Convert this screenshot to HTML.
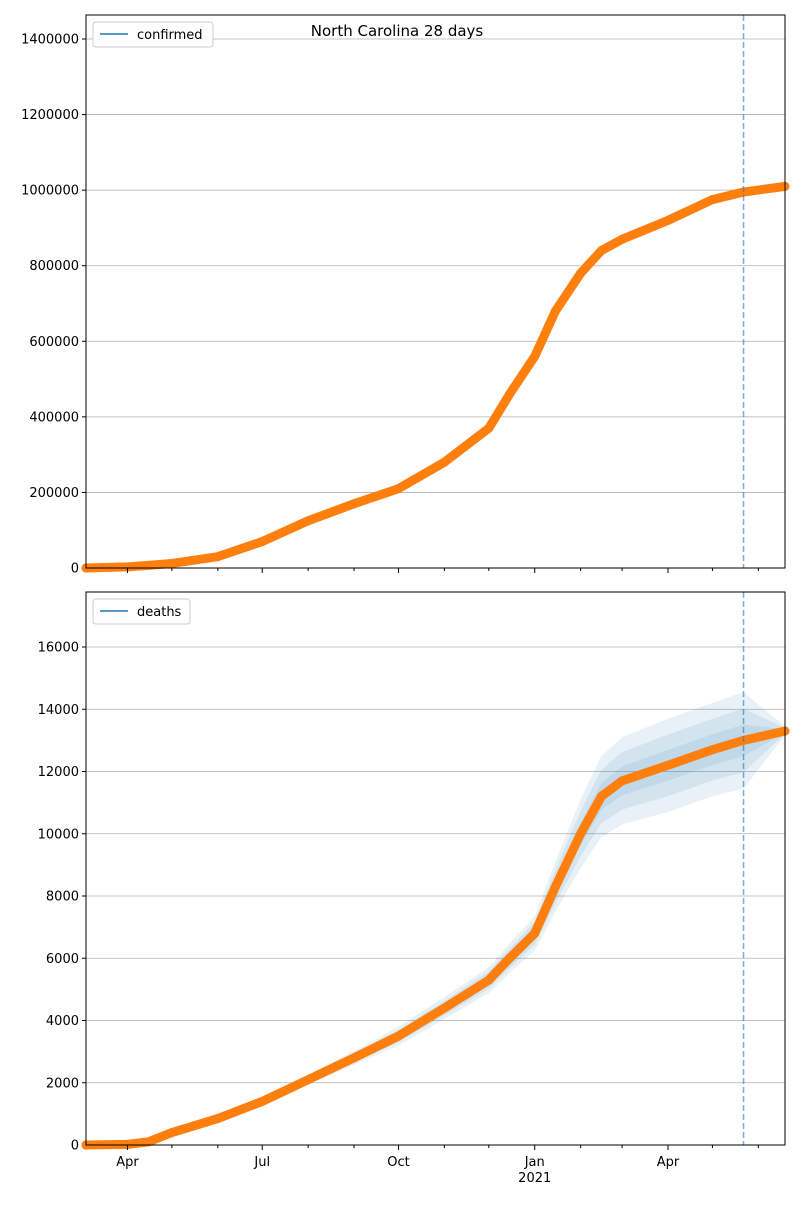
<!DOCTYPE html>
<html><head><meta charset="utf-8">
<style>
body{margin:0;background:#fff;}
svg text{font-family:"DejaVu Sans","Liberation Sans",sans-serif;font-size:13px;fill:#000;}
</style></head>
<body>
<svg id="chart" width="800" height="1200" viewBox="0 0 800 1200" xmlns="http://www.w3.org/2000/svg"></svg>
<script>
// days since 2020-03-04
const days = [0,28,42,58,89,119,150,181,211,242,272,286,303,317,334,348,362,393,423,444,472];
const confirmed = [0,3000,7000,12000,30000,70000,125000,170000,210000,280000,370000,460000,560000,680000,780000,840000,870000,920000,975000,995000,1010000];
const deaths = [0,20,100,400,850,1400,2100,2800,3500,4400,5300,6000,6800,8300,10000,11200,11700,12200,12700,13000,13300];
const bandHalf = [0,2,10,30,60,100,150,220,300,350,420,470,550,800,1100,1300,1400,1500,1500,1550,150];
const confTicks = [0,200000,400000,600000,800000,1000000,1200000,1400000];
const deathTicks = [0,2000,4000,6000,8000,10000,12000,14000,16000];
const monthDays = [-3,28,58,89,119,150,181,211,242,272,303,334,362,393,423,454];
const majorLabels = {"28":"Apr","119":"Jul","211":"Oct","303":"Jan","393":"Apr"};
const forecastDay = 444;

const NS="http://www.w3.org/2000/svg";
const svg=document.getElementById('chart');
function el(tag,attrs,parent){const e=document.createElementNS(NS,tag);for(const k in attrs)e.setAttribute(k,attrs[k]);(parent||svg).appendChild(e);return e;}
const X0=86,X1=785,dayMax=472;
const xs=d=>X0+(d)/dayMax*(X1-X0);

function panel(top,bottom,yMax,values,ticks,legend,withBands,showX){
  const ys=v=>bottom-v/yMax*(bottom-top);
  const g=el('g',{});
  
  
  ticks.forEach(t=>{
    const y=ys(t);
    const l=el('line',{x1:X0,x2:X1,y1:y,y2:y,stroke:'#b0b0b0','stroke-width':0.8},g);
    
    
    el('line',{x1:X0-4,x2:X0,y1:y,y2:y,stroke:'#000'},g);
    const tx=el('text',{x:X0-7,y:y+4.5,'text-anchor':'end'},g);
    tx.textContent=t;
    
    
  });
  if(withBands){
    [1,0.66,0.33].forEach(f=>{
      let pts=days.map((d,i)=>xs(d)+','+ys(values[i]+bandHalf[i]*f));
      pts=pts.concat(days.map((d,i)=>xs(d)+','+ys(values[i]-bandHalf[i]*f)).reverse());
      const p=el('polygon',{points:pts.join(' '),fill:'#1f77b4','fill-opacity':0.1},g);
      
      
    });
  }
  const line=el('polyline',{points:days.map((d,i)=>xs(d)+','+ys(values[i])).join(' '),fill:'none',stroke:'#ff7f0e','stroke-width':9,'stroke-linecap':'round','stroke-linejoin':'round'},g);
  
  
  days.forEach((d,i)=>{
    const c=el('circle',{cx:xs(d),cy:ys(values[i]),r:4.5,fill:'#ff7f0e'},g);
    
    
  });
  const dl=el('line',{x1:xs(forecastDay),x2:xs(forecastDay),y1:top,y2:bottom,stroke:'#1f77b4','stroke-opacity':0.6,'stroke-width':1.5,'stroke-dasharray':'6,3'},g);
  
  
  const fr=el('rect',{x:X0,y:top,width:X1-X0,height:bottom-top,fill:'none',stroke:'#000','stroke-width':1},g);
  
  
  monthDays.forEach(d=>{
    if(d<0)return;
    const major=majorLabels[d]!==undefined;
    el('line',{x1:xs(d),x2:xs(d),y1:bottom,y2:bottom+(major?5:3),stroke:'#000'},g);
    if(showX&&major){
      const t=el('text',{x:xs(d),y:bottom+21,'text-anchor':'middle'},g);
      t.textContent=majorLabels[d];
      
      
    }
  });
  const lw=legend==='confirmed'?120:97;
  const lg=el('g',{},g);
  
  
  el('rect',{x:93,y:top+7,width:lw,height:25,rx:3,fill:'#fff',stroke:'#ccc'},lg);
  el('line',{x1:100,x2:128,y1:top+19,y2:top+19,stroke:'#1f77b4','stroke-width':1.5},lg);
  const lt=el('text',{x:137,y:top+24},lg);lt.textContent=legend;
}
panel(15,568,1400000/((568-39)/(568-15)),confirmed,confTicks,'confirmed',false,false);
panel(592,1145,16000/((1145-647)/(1145-592)),deaths,deathTicks,'deaths',true,true);
const yr=el('text',{x:xs(303),y:1182,'text-anchor':'middle'});yr.textContent='2021';


const ti=el('text',{x:397,y:36,'text-anchor':'middle'});ti.textContent='North Carolina 28 days';
ti.setAttribute('style','font-size:15px');


</script>
</body></html>
